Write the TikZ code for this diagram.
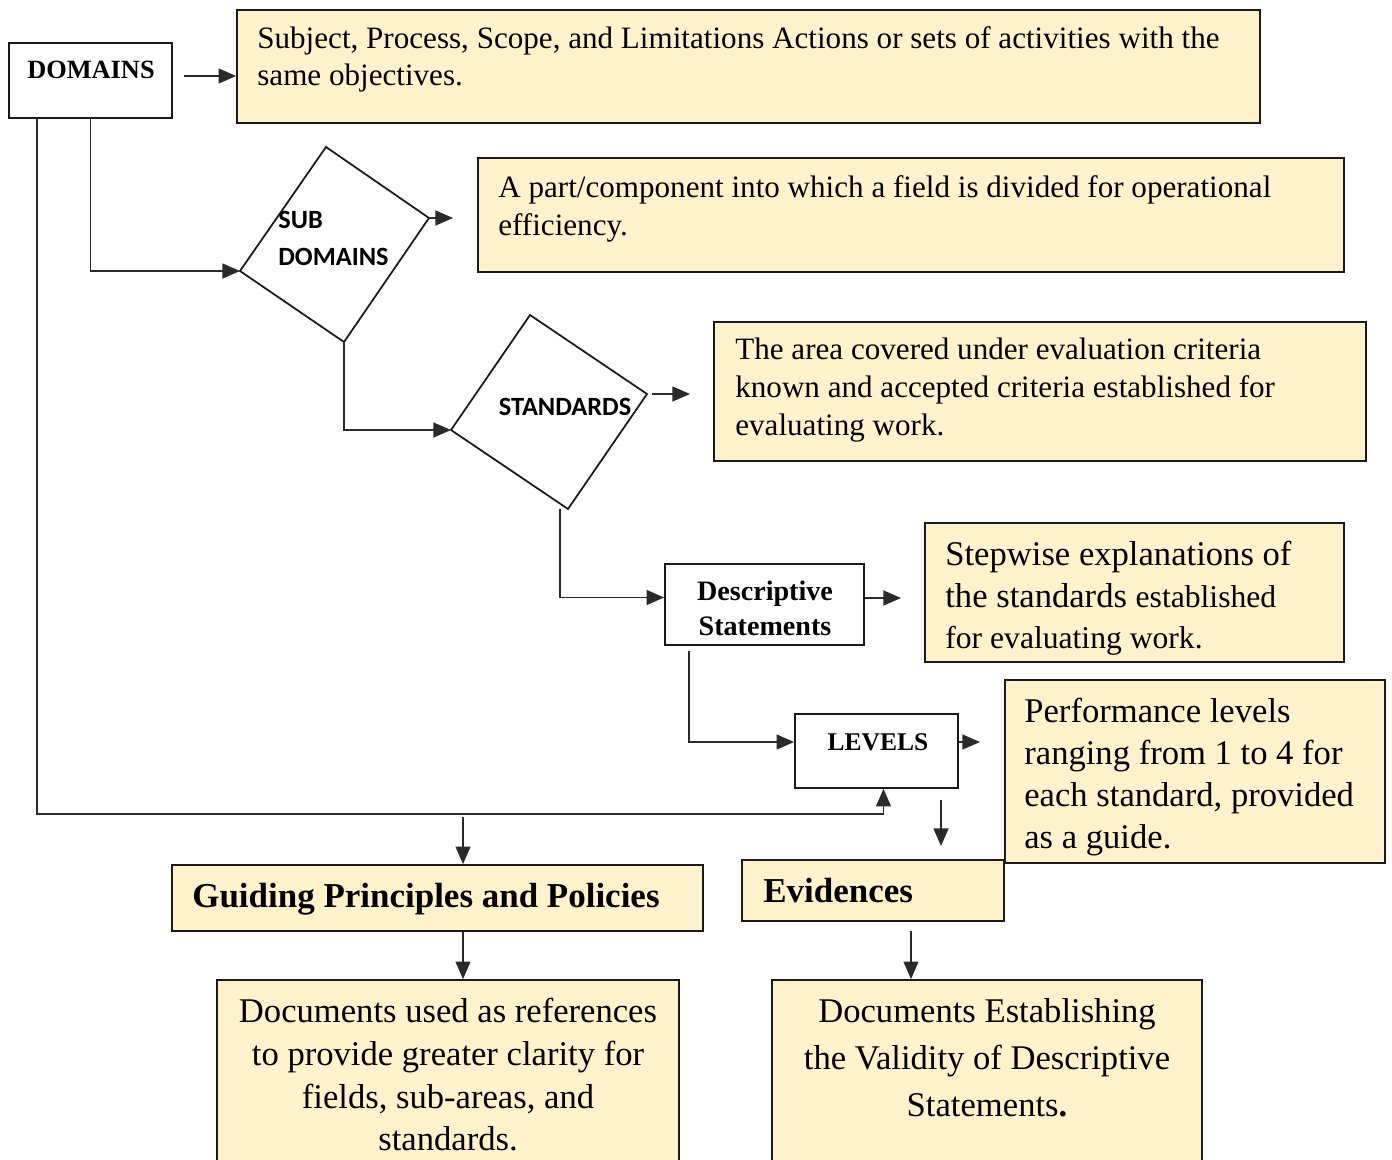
\documentclass[tikz,border=0pt]{standalone}
\usepackage{fontspec}
\setmainfont{Liberation Serif}
\newfontfamily\calfont{Carlito}
\usetikzlibrary{arrows.meta,fit,calc}
\definecolor{boxfill}{HTML}{FFF2CC}
\definecolor{edgec}{HTML}{1A1A1A}
\definecolor{wirec}{HTML}{2A2A2A}
\tikzset{
  yelbox/.style={draw=edgec, line width=1pt, fill=boxfill, inner sep=0pt},
  whitebox/.style={draw=edgec, line width=1pt, fill=white, inner sep=0pt},
  diam/.style={draw=edgec, line width=1pt, fill=white},
  wire/.style={draw=wirec, line width=0.8pt},
  arr/.style={wire, -{Triangle[length=10pt,width=8.5pt]}},
  cam/.style={anchor=base west, inner sep=0pt, font=\fontsize{17.7}{20}\selectfont},
  tnr/.style={anchor=base west, inner sep=0pt, font=\fontsize{19.7}{24}\selectfont},
  tnrc/.style={anchor=base, inner sep=0pt, font=\fontsize{19.7}{24}\selectfont},
  tnrb/.style={anchor=base west, inner sep=0pt, font=\bfseries\fontsize{19.9}{24}\selectfont},
  lab/.style={anchor=base, inner sep=0pt, font=\bfseries\fontsize{16}{19}\selectfont},
  cal/.style={inner sep=0pt, font=\calfont\bfseries\fontsize{15}{18}\selectfont},
}
\begin{document}
\begin{tikzpicture}[x=0.02cm,y=-0.02cm]
\useasboundingbox[fill=white] (0,0) rectangle (1392,1159);

% DOMAINS
\node[whitebox, fit={(9,43)(172,118)}] (dom) {};
\node[lab, font=\bfseries\fontsize{15}{18}\selectfont] (domt) at (91,79) {DOMAINS};

% Box 1
\node[yelbox, fit={(237,10)(1260,123)}] (b1) {};
\node[cam] (b1a) at (257,49) {Subject, Process, Scope, and Limitations Actions or sets of activities with the};
\node[cam] (b1b) at (257,86) {same objectives.};
\coordinate (a1s) at (184,76);
\draw[arr] (a1s) -- (a1s -| b1.west);

% SUB DOMAINS diamond
\coordinate (sdT) at (326,147);
\coordinate (sdR) at (429,218);
\coordinate (sdB) at (344,342);
\coordinate (sdL) at (240,271);
\draw[diam] (sdT) -- (sdR) -- (sdB) -- (sdL) -- cycle;
\node[cal, anchor=base west] (sdt1) at (278,228) {SUB};
\node[cal, anchor=base west] (sdt2) at (278,265) {DOMAINS};
\coordinate (a2e) at (453,218);
\draw[arr] (sdR) -- (a2e);
\draw[arr] (dom.south) |- (sdL);

% Box 2
\node[yelbox, fit={(478,158)(1344,272)}] (b2) {};
\node[cam] (b2a) at (498,197) {A part/component into which a field is divided for operational};
\node[cam] (b2b) at (498,235) {efficiency.};

% STANDARDS diamond
\coordinate (stT) at (530,315);
\coordinate (stR) at (647,394);
\coordinate (stB) at (568,509);
\coordinate (stL) at (451,430);
\draw[diam] (stT) -- (stR) -- (stB) -- (stL) -- cycle;
\node[cal, anchor=base] (stt) at (565,415) {STANDARDS};
\draw[arr] (sdB) |- (stL);
\coordinate (a3s) at (652,394);
\coordinate (a3e) at (690,394);
\draw[arr] (a3s) -- (a3e);

% Box 3
\node[yelbox, fit={(714,322)(1366,461)}] (b3) {};
\node[cam] (b3a) at (735,359) {The area covered under evaluation criteria};
\node[cam] (b3b) at (735,397) {known and accepted criteria established for};
\node[cam] (b3c) at (735,435) {evaluating work.};

% Descriptive Statements
\node[whitebox, fit={(665,564)(864,645)}] (desc) {};
\node[lab] (desct1) at (765,600) {Descriptive};
\node[lab] (desct2) at (765,635) {Statements};
\coordinate (stOut) at ($(stB)+(-8,0)$);
\draw[arr] (stOut) |- ($(desc.west)+(0,-7)$);
\coordinate (a4e) at (901,598);
\draw[arr] (desc.east |- a4e) -- (a4e);

% Box 4
\node[yelbox, fit={(925,523)(1344,662)}] (b4) {};
\node[tnr] (b4a) at (945,565) {Stepwise explanations of};
\node[tnr] (b4b) at (945,607) {the standards {\fontsize{18}{22}\selectfont established}};
\node[tnr, font=\fontsize{18}{22}\selectfont] (b4c) at (945,648) {for evaluating work.};

% LEVELS
\node[whitebox, fit={(795,714)(958,788)}] (lev) {};
\node[lab, font=\bfseries\fontsize{14.5}{17}\selectfont] (levt) at (878,750) {LEVELS};
\coordinate (dOut) at ($(desc.south west)+(25,5)$);
\draw[arr] (dOut) |- ($(lev.west)+(0,-9)$);
\coordinate (a5e) at (980,742);
\draw[arr] (lev.east |- a5e) -- (a5e);

% DOMAINS to LEVELS (long loop)
\coordinate (domL) at ($(dom.south west)+(29,0)$);
\coordinate (lbend) at ($(lev.south)+(7,25)$);
\draw[arr] (domL) |- (lbend) -- ($(lev.south)+(7,0)$);

% Evidences (drawn before Box 5)
\node[yelbox, fit={(742,860)(1004,921)}] (evid) {};
\node[tnrb] (evidt) at (763,902) {Evidences};

% Box 5
\node[yelbox, fit={(1005,680)(1385,863)}] (b5) {};
\node[tnr] (b5a) at (1024,722) {Performance levels};
\node[tnr] (b5b) at (1024,764) {ranging from 1 to 4 for};
\node[tnr] (b5c) at (1024,806) {each standard, provided};
\node[tnr] (b5d) at (1024,848) {as a guide.};
\coordinate (a6s) at (941,800);
\coordinate (a6e) at (941,846);
\draw[arr] (a6s) -- (a6e);

% Guiding Principles
\node[yelbox, fit={(172,865)(703,931)}] (guid) {};
\node[tnrb] (guidt) at (192,907) {Guiding Principles and Policies};
\coordinate (g0) at (463,817);
\draw[arr] (g0) -- (g0 |- guid.north);

% Bottom left
\node[yelbox, fit={(217,980)(679,1175)}] (bl) {};
\node[tnrc] (bla) at (448,1022) {Documents used as references};
\node[tnrc] (blb) at (448,1065) {to provide greater clarity for};
\node[tnrc] (blc) at (448,1108) {fields, sub-areas, and};
\node[tnrc] (bld) at (448,1150) {standards.};
\draw[arr] (g0 |- guid.south) -- (g0 |- bl.north);

% Bottom right
\node[yelbox, fit={(772,980)(1202,1175)}] (br) {};
\node[tnrc] (bra) at (987,1022) {Documents Establishing};
\node[tnrc] (brb) at (987,1069) {the Validity of Descriptive};
\node[tnrc] (brc) at (987,1116) {Statements\textbf{.}};
\coordinate (e0) at (911,931);
\draw[arr] (e0) -- (e0 |- br.north);
\end{tikzpicture}
\end{document}
